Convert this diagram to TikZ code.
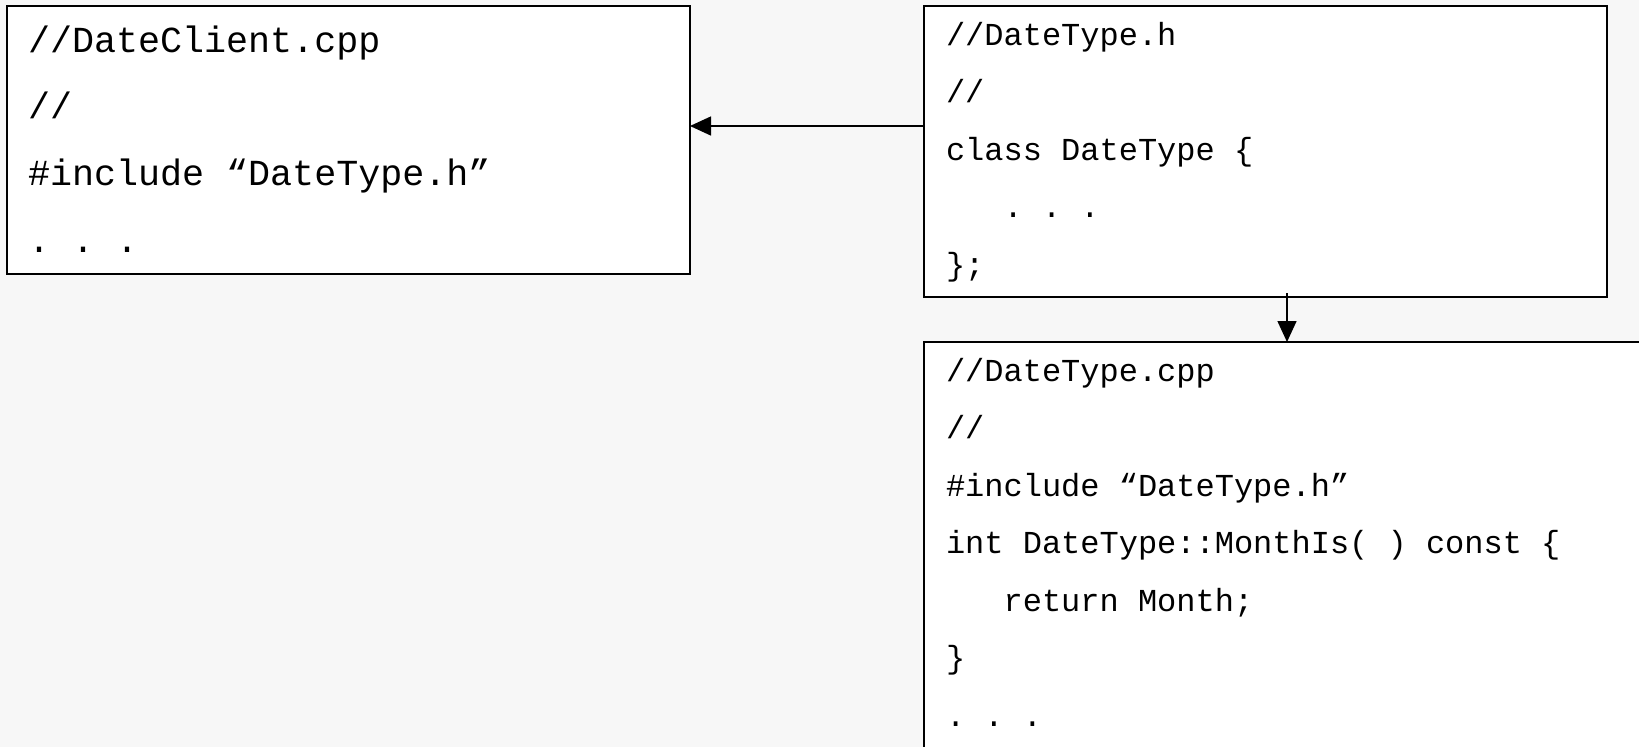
\documentclass[tikz,border=0pt]{standalone}
\usepackage{fontspec}
\newfontfamily\codefont{Liberation Mono}
\usetikzlibrary{arrows.meta}
\definecolor{bgc}{RGB}{247,247,247}
\tikzset{
  box/.style={draw=black, line width=2pt, fill=white, rectangle, inner sep=0pt, outer sep=0pt, anchor=north west},
  bigcode/.style={anchor=base west, inner sep=0pt, outer sep=0pt, font=\codefont\fontsize{36.7}{40}\selectfont\frenchspacing},
  code/.style={anchor=base west, inner sep=0pt, outer sep=0pt, font=\codefont\fontsize{32}{36}\selectfont\frenchspacing},
  arr/.style={line width=1.5pt, -{Triangle[length=21pt,width=19pt]}},
}
\begin{document}
\begin{tikzpicture}[x=1pt,y=-1pt]
\useasboundingbox (0,0) rectangle (1639,747);
\clip (0,0) rectangle (1639,747);
\fill[bgc] (0,0) rectangle (1639,747);
% boxes
\node[box, minimum width=683pt, minimum height=268pt] (A) at (7,6) {};
\node[box, minimum width=683pt, minimum height=291pt] (B) at (924,6) {};
\node[box, minimum width=780pt, minimum height=460pt] (C) at (924,342) {};
% box A text
\node[bigcode] (a1) at (28,52) {//DateClient.cpp};
\node[bigcode] (a2) at (28,118.7) {//};
\node[bigcode] (a3) at (28,185.3) {\#include “DateType.h”};
\node[bigcode] (a4) at (28,252) {. . .};
% box B text
\node[code] (b1) at (946,45) {//DateType.h};
\node[code] (b2) at (946,102.5) {//};
\node[code] (b3) at (946,160) {class DateType \{};
\node[code] (b4) at (946,217.5) {\phantom{xxx}. . .};
\node[code] (b5) at (946,275) {\};};
% box C text
\node[code] (c1) at (946,381) {//DateType.cpp};
\node[code] (c2) at (946,438.5) {//};
\node[code] (c3) at (946,496) {\#include “DateType.h”};
\node[code] (c4) at (946,553.5) {int DateType::MonthIs( ) const \{};
\node[code] (c5) at (946,611) {\phantom{xxx}return Month;};
\node[code] (c6) at (946,668.5) {\}};
\node[code] (c7) at (946,726) {. . .};
% connectors
\draw[arr] (B.west |- 0,126) -- (A.east |- 0,126);
\coordinate (dstart) at (1287,293);
\draw[arr] (dstart) -- (C.north -| dstart);
\end{tikzpicture}
\end{document}
